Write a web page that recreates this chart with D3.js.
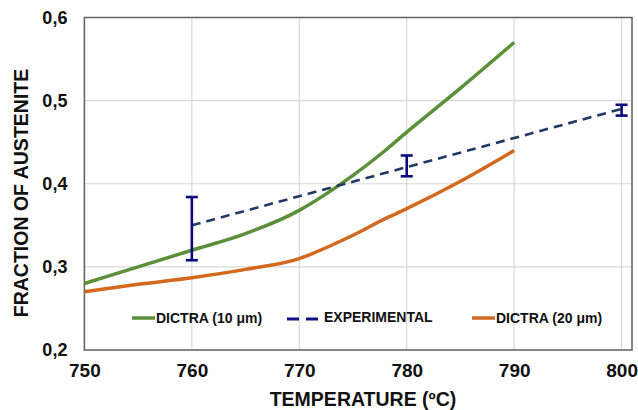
<!DOCTYPE html>
<html><head><meta charset="utf-8">
<script src="https://cdn.jsdelivr.net/npm/d3@7"></script>
<style>body{margin:0;background:#fff}text{font-family:"Liberation Sans",Arial,sans-serif;font-weight:bold;fill:#111}</style>
</head><body><svg id="c" width="638" height="410"></svg>
<script>
const temps10 = [750,755,760,765,770,773,775,778,780,785,790];
const dictra10 = [0.280,0.300,0.320,0.340,0.368,0.392,0.410,0.440,0.462,0.515,0.570];
const temps20 = [750,755,760,765,770,773,775,778,780,785,790];
const dictra20 = [0.270,0.279,0.287,0.297,0.310,0.326,0.338,0.358,0.370,0.403,0.440];
const expTemps = [760,780,800];
const expValues = [0.350,0.420,0.490];
const expLow = [0.308,0.409,0.482];
const expHigh = [0.384,0.434,0.495];
const xTicks = [750,760,770,780,790,800];
const yTicks = [0.2,0.3,0.4,0.5,0.6];
const yTickLabels = ["0,2","0,3","0,4","0,5","0,6"];
const legendLabels = ["DICTRA (10 μm)","EXPERIMENTAL","DICTRA (20 μm)"];

const svg = d3.select("#c");
const x = d3.scaleLinear().domain([750,800]).range([84.4,621.6]);
const y = d3.scaleLinear().domain([0.2,0.6]).range([350,17.5]);
const frameRight = 632;

// gridlines
const g = svg.append("g");
g.selectAll(".vg").data(xTicks.slice(1)).join("line")
 .attr("x1",d=>x(d)).attr("x2",d=>x(d)).attr("y1",y(0.6)).attr("y2",y(0.2))
 .attr("stroke","#d9d9d9").attr("stroke-width",1.2);
g.selectAll(".hg").data(yTicks.slice(1,-1)).join("line")
 .attr("x1",x(750)).attr("x2",frameRight).attr("y1",d=>y(d)).attr("y2",d=>y(d))
 .attr("stroke","#d9d9d9").attr("stroke-width",1.2);

// frame
svg.append("rect").attr("x",x(750)).attr("y",y(0.6)).attr("width",frameRight-x(750)).attr("height",y(0.2)-y(0.6))
 .attr("fill","none").attr("stroke","#5f5f5f").attr("stroke-width",1.5);

// axes labels via d3 axes
const xAxis = svg.append("g").attr("transform",`translate(0,${y(0.2)})`)
 .call(d3.axisBottom(x).tickValues(xTicks).tickSize(0).tickPadding(14).tickFormat(d3.format("d")));
xAxis.select(".domain").remove();
xAxis.selectAll("text").attr("font-size",19).attr("fill","#111").style("font-family","'Liberation Sans',Arial,sans-serif").style("font-weight","bold");

const yAxis = svg.append("g").attr("transform",`translate(${x(750)},0)`)
 .call(d3.axisLeft(y).tickValues(yTicks).tickSize(0).tickPadding(17).tickFormat((d,i)=>yTickLabels[i]));
yAxis.select(".domain").remove();
yAxis.selectAll("text").attr("font-size",18).attr("fill","#111").style("font-family","'Liberation Sans',Arial,sans-serif").style("font-weight","bold");

// titles
svg.append("text").attr("x",363).attr("y",406).attr("text-anchor","middle").attr("font-size",19.5).text("TEMPERATURE (ºC)");
svg.append("text").attr("transform","translate(28,193) rotate(-90)").attr("text-anchor","middle").attr("font-size",19.5).text("FRACTION OF AUSTENITE");

const line = d3.line().x(d=>x(d[0])).y(d=>y(d[1])).curve(d3.curveMonotoneX);
svg.append("path").datum(temps20.map((t,i)=>[t,dictra20[i]])).attr("d",line)
 .attr("fill","none").attr("stroke","#d2691e").attr("stroke-width",3.5);
svg.append("path").datum(temps10.map((t,i)=>[t,dictra10[i]])).attr("d",line)
 .attr("fill","none").attr("stroke","#5b8f3a").attr("stroke-width",3.5);
const lineL = d3.line().x(d=>x(d[0])).y(d=>y(d[1]));
svg.append("path").datum(expTemps.map((t,i)=>[t,expValues[i]])).attr("d",lineL)
 .attr("fill","none").attr("stroke","#203864").attr("stroke-width",2.6).attr("stroke-dasharray","9,6");

// error bars
const eb = svg.append("g").attr("stroke","#0a0a80").attr("stroke-width",2.6);
expTemps.forEach((t,i)=>{
  eb.append("line").attr("x1",x(t)).attr("x2",x(t)).attr("y1",y(expLow[i])).attr("y2",y(expHigh[i]));
  eb.append("line").attr("x1",x(t)-6).attr("x2",x(t)+6).attr("y1",y(expLow[i])).attr("y2",y(expLow[i]));
  eb.append("line").attr("x1",x(t)-6).attr("x2",x(t)+6).attr("y1",y(expHigh[i])).attr("y2",y(expHigh[i]));
});

// legend
const leg = svg.append("g");
leg.append("line").attr("x1",132).attr("x2",155).attr("y1",318).attr("y2",318).attr("stroke","#5b8f3a").attr("stroke-width",3.5);
leg.append("text").attr("x",156).attr("y",323).attr("font-size",14).text(legendLabels[0]);
leg.append("line").attr("x1",287).attr("x2",318).attr("y1",319).attr("y2",319).attr("stroke","#10108a").attr("stroke-width",3).attr("stroke-dasharray","12,7");
leg.append("text").attr("x",324).attr("y",322).attr("font-size",14).text(legendLabels[1]);
leg.append("line").attr("x1",472).attr("x2",495).attr("y1",318).attr("y2",318).attr("stroke","#d2691e").attr("stroke-width",3.5);
leg.append("text").attr("x",496).attr("y",323).attr("font-size",14).text(legendLabels[2]);
</script></body></html>
